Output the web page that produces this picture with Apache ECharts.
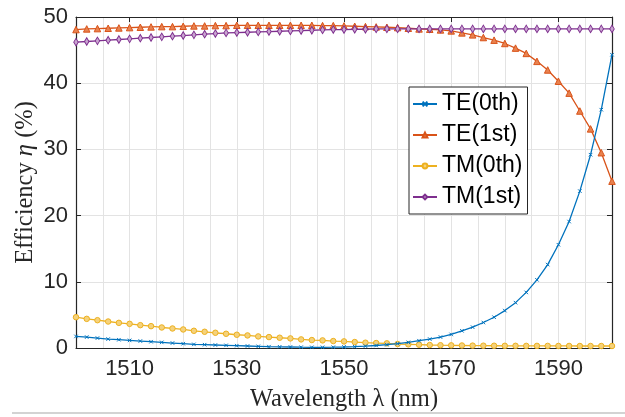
<!DOCTYPE html>
<html>
<head>
<meta charset="utf-8">
<script src="https://cdn.jsdelivr.net/npm/echarts@6/dist/echarts.min.js"></script>
<style>html,body{margin:0;padding:0;background:#fff}#c{width:625px;height:417px}</style>
</head>
<body>
<div id="c"></div>
<script>
const wavelength = [1500,1502,1504,1506,1508,1510,1512,1514,1516,1518,1520,1522,1524,1526,1528,1530,1532,1534,1536,1538,1540,1542,1544,1546,1548,1550,1552,1554,1556,1558,1560,1562,1564,1566,1568,1570,1572,1574,1576,1578,1580,1582,1584,1586,1588,1590,1592,1594,1596,1598,1600];
const te0 = [1.75,1.65,1.5,1.35,1.25,1.15,1.05,0.95,0.85,0.75,0.65,0.55,0.5,0.45,0.4,0.35,0.3,0.25,0.2,0.18,0.15,0.12,0.1,0.1,0.12,0.15,0.2,0.28,0.38,0.5,0.65,0.85,1.1,1.35,1.65,2.05,2.6,3.15,3.85,4.65,5.65,6.85,8.4,10.3,12.6,15.6,19.1,23.7,29.2,36.0,44.3];
const te1 = [48.1,48.2,48.25,48.3,48.35,48.4,48.45,48.5,48.55,48.55,48.6,48.65,48.65,48.7,48.7,48.75,48.75,48.75,48.75,48.75,48.75,48.75,48.75,48.7,48.7,48.65,48.6,48.55,48.5,48.45,48.4,48.3,48.2,48.15,48.05,47.9,47.6,47.3,46.9,46.5,46.0,45.3,44.5,43.3,42.0,40.3,38.5,35.8,33.1,29.5,25.2];
const tm0 = [4.65,4.4,4.2,4.0,3.8,3.65,3.45,3.3,3.1,2.95,2.8,2.6,2.45,2.3,2.15,2.0,1.9,1.75,1.65,1.55,1.45,1.3,1.2,1.15,1.05,1.0,0.9,0.8,0.75,0.7,0.6,0.55,0.5,0.45,0.42,0.4,0.38,0.36,0.35,0.34,0.33,0.33,0.32,0.32,0.32,0.31,0.31,0.3,0.3,0.3,0.3];
const tm1 = [46.2,46.3,46.4,46.5,46.6,46.7,46.8,46.9,47.0,47.1,47.2,47.3,47.4,47.5,47.6,47.65,47.7,47.75,47.8,47.85,47.9,47.95,48.0,48.05,48.1,48.1,48.15,48.15,48.2,48.2,48.2,48.2,48.2,48.2,48.2,48.2,48.2,48.2,48.2,48.2,48.2,48.2,48.2,48.2,48.2,48.2,48.2,48.2,48.2,48.2,48.2];
const seriesNames = ['TE(0th)','TE(1st)','TM(0th)','TM(1st)'];
const xTickLabels = [1510,1530,1550,1570,1590];

const pairs = arr => wavelength.map((w,i)=>[w,arr[i]]);
const axisCol = '#262626';
const sansFont = 'Liberation Sans, Arial, Helvetica, sans-serif';
const serifFont = 'Liberation Serif, Times New Roman, serif';

const chart = echarts.init(document.getElementById('c'), null, {renderer:'canvas'});
chart.setOption({
  animation:false,
  backgroundColor:'#fff',
  grid:{left:76, right:13, top:17, bottom:67, containLabel:false},
  graphic:[{type:'line', shape:{x1:12,y1:413,x2:625,y2:413}, style:{stroke:'#c4c4c4', lineWidth:1.5}, silent:true}],
  legend:{
    orient:'vertical', left:409, top:87,
    backgroundColor:'#fff', borderColor:axisCol, borderWidth:1, borderRadius:0,
    padding:[4,5,4,3], itemWidth:24, itemHeight:6, itemGap:5, itemTextGap:3,
    textStyle:{fontSize:23, fontFamily:sansFont, color:'#000', lineHeight:26},
    data:seriesNames
  },
  xAxis:[
    {type:'value', min:1500, max:1600, interval:5, position:'bottom',
     name:'Wavelength λ (nm)', nameLocation:'middle', nameGap:39, nameMoveOverlap:false,
     nameTextStyle:{fontFamily:serifFont, fontSize:24.5, color:axisCol},
     axisLine:{show:true, onZero:false, lineStyle:{color:axisCol, width:1.2}},
     axisTick:{show:false},
     axisLabel:{show:true, margin:10, fontSize:22, fontFamily:sansFont, color:axisCol,
       formatter:v => xTickLabels.indexOf(v)>=0 ? String(v) : ''},
     splitLine:{show:true, lineStyle:{color:'#e3e3e3', width:1}}},
    {type:'value', min:1500, max:1600, position:'top',
     axisLine:{show:true, onZero:false, lineStyle:{color:axisCol, width:1.2}},
     axisTick:{show:true, inside:true, length:5, customValues:xTickLabels, lineStyle:{color:axisCol}},
     axisLabel:{show:false}, splitLine:{show:false}}
  ],
  yAxis:[
    {type:'value', min:0, max:50, interval:10, position:'left',
     name:'Efficiency {i|η} (%)', nameLocation:'middle', nameGap:38, nameMoveOverlap:false,
     nameTextStyle:{fontFamily:serifFont, fontSize:24.5, color:axisCol,
       rich:{i:{fontFamily:serifFont, fontStyle:'italic', fontSize:24.5, color:axisCol}}},
     axisLine:{show:true, onZero:false, lineStyle:{color:axisCol, width:1.2}},
     axisTick:{show:true, inside:true, length:5, lineStyle:{color:axisCol}},
     axisLabel:{margin:8, fontSize:22, fontFamily:sansFont, color:axisCol},
     splitLine:{show:true, lineStyle:{color:'#e3e3e3', width:1}}},
    {type:'value', min:0, max:50, interval:10, position:'right',
     axisLine:{show:true, onZero:false, lineStyle:{color:axisCol, width:1.2}},
     axisTick:{show:true, inside:true, length:5, lineStyle:{color:axisCol}},
     axisLabel:{show:false}, splitLine:{show:false}}
  ],
  series:[
    {name:seriesNames[0], type:'line', data:pairs(te0), xAxisIndex:0, yAxisIndex:0,
     symbol:'path://M0,0L10,10M10,0L0,10', symbolSize:3.5, showAllSymbol:true,
     lineStyle:{color:'#0072BD', width:1.3},
     itemStyle:{color:'#0072BD', borderColor:'#0072BD', borderWidth:1}, z:5},
    {name:seriesNames[1], type:'line', data:pairs(te1), xAxisIndex:0, yAxisIndex:0,
     symbol:'triangle', symbolSize:6.5, showAllSymbol:true,
     lineStyle:{color:'#D95319', width:1.3},
     itemStyle:{color:'#E8824F', borderColor:'#D95319', borderWidth:1}, z:3},
    {name:seriesNames[2], type:'line', data:pairs(tm0), xAxisIndex:0, yAxisIndex:0,
     symbol:'circle', symbolSize:5.5, showAllSymbol:true,
     lineStyle:{color:'#EDB120', width:1.3},
     itemStyle:{color:'#F5D27C', borderColor:'#EDB120', borderWidth:1}, z:4},
    {name:seriesNames[3], type:'line', data:pairs(tm1), xAxisIndex:0, yAxisIndex:0,
     symbol:'diamond', symbolSize:[4.5,7.5], showAllSymbol:true,
     lineStyle:{color:'#7E2F8E', width:1.3},
     itemStyle:{color:'#C9A5D1', borderColor:'#7E2F8E', borderWidth:1}, z:4}
  ]
});
</script>
</body>
</html>
